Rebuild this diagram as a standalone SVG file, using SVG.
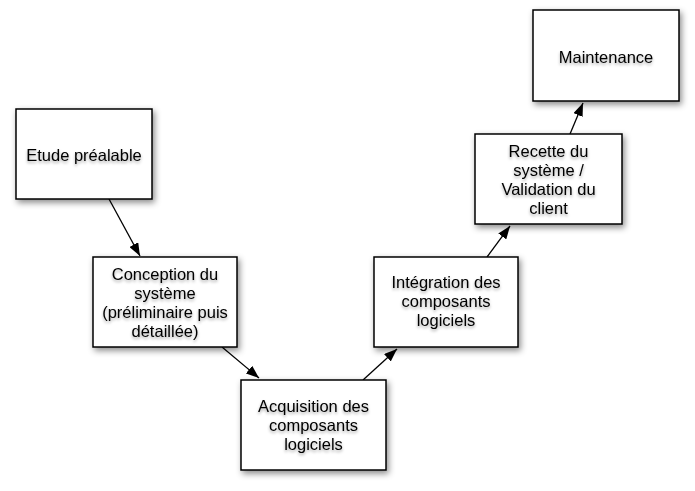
<svg xmlns="http://www.w3.org/2000/svg" width="695" height="491" viewBox="0 0 695 491">
<defs>
<filter id="bs" x="-20%" y="-20%" width="150%" height="150%">
<feDropShadow dx="2" dy="3" stdDeviation="3" flood-color="#000" flood-opacity="0.45"/>
</filter>
<filter id="ts" x="-10%" y="-30%" width="120%" height="170%">
<feDropShadow dx="0" dy="2" stdDeviation="1.6" flood-color="#000" flood-opacity="0.35"/>
</filter>
<marker id="ah" viewBox="0 0 13 10" refX="13" refY="5" markerWidth="13" markerHeight="10" markerUnits="userSpaceOnUse" orient="auto">
<path d="M0,0 L13,5 L0,10 Z" fill="#000"/>
</marker>
<style>
.box{fill:#fff;stroke:#000;stroke-width:1.5;filter:url(#bs)}
.lbl{font-family:"Liberation Sans",Arial,Helvetica,sans-serif;font-size:16.5px;fill:#000;text-anchor:middle;filter:url(#ts)}
.conn{stroke:#000;stroke-width:1.3;fill:none;marker-end:url(#ah)}
</style>
</defs>
<rect width="695" height="491" fill="#fff"/>
<g id="connectors">
<line class="conn" x1="109" y1="199" x2="140" y2="256"/>
<line class="conn" x1="222" y1="347" x2="259" y2="378"/>
<line class="conn" x1="363" y1="380" x2="397" y2="349"/>
<line class="conn" x1="487" y1="257" x2="510" y2="226"/>
<line class="conn" x1="570" y1="134" x2="583" y2="103"/>
</g>
<g id="etude">
<rect class="box" x="16" y="109" width="136" height="90"/>
<text class="lbl" x="84" y="161">Etude préalable</text>
</g>
<g id="conception">
<rect class="box" x="93" y="257" width="144" height="90"/>
<text class="lbl" x="165" y="280">Conception du</text>
<text class="lbl" x="165" y="299">système</text>
<text class="lbl" x="165" y="318">(préliminaire puis</text>
<text class="lbl" x="165" y="337">détaillée)</text>
</g>
<g id="acquisition">
<rect class="box" x="241" y="380" width="145" height="90"/>
<text class="lbl" x="313.5" y="412">Acquisition des</text>
<text class="lbl" x="313.5" y="431">composants</text>
<text class="lbl" x="313.5" y="450">logiciels</text>
</g>
<g id="integration">
<rect class="box" x="374" y="257" width="144" height="90"/>
<text class="lbl" x="446" y="288">Intégration des</text>
<text class="lbl" x="446" y="307">composants</text>
<text class="lbl" x="446" y="326">logiciels</text>
</g>
<g id="recette">
<rect class="box" x="475" y="134" width="147" height="90"/>
<text class="lbl" x="548.5" y="157">Recette du</text>
<text class="lbl" x="548.5" y="176">système /</text>
<text class="lbl" x="548.5" y="195">Validation du</text>
<text class="lbl" x="548.5" y="214">client</text>
</g>
<g id="maintenance">
<rect class="box" x="533" y="10" width="146" height="91"/>
<text class="lbl" x="606" y="63">Maintenance</text>
</g>
</svg>
